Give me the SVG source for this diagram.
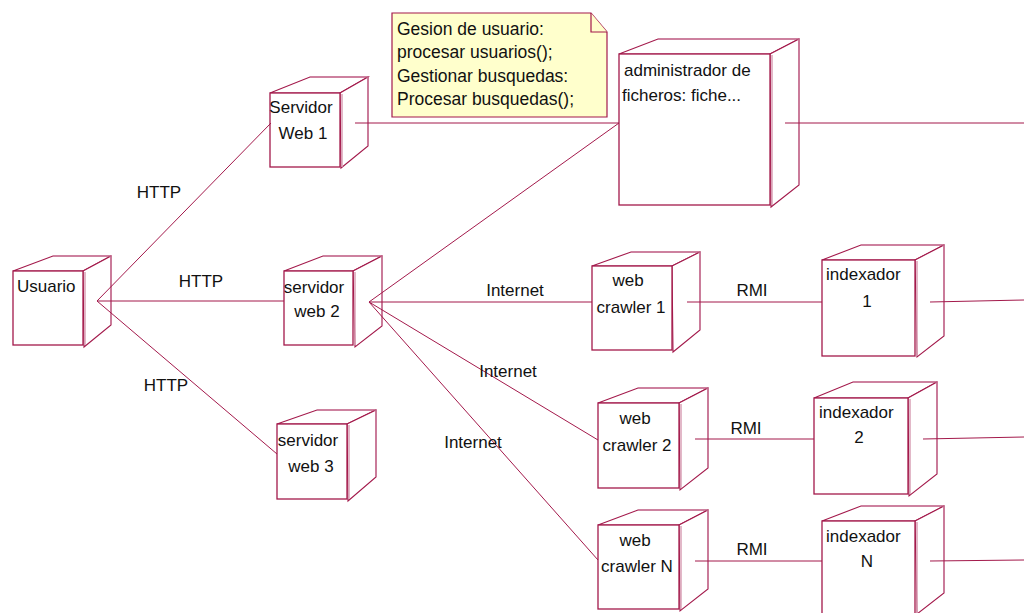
<svg xmlns="http://www.w3.org/2000/svg" width="1024" height="613" viewBox="0 0 1024 613">
  <defs>
    <style>
      .bg { fill: #ffffff; }
      .conn { stroke: #a3194b; stroke-width: 1; fill: none; }
      .front { fill: #ffffff; stroke: #a3194b; stroke-width: 1.3; }
      .face { fill: #ffffff; stroke: #a3194b; stroke-width: 1.1; stroke-linejoin: miter; }
      .back { stroke: #c9789a; stroke-width: 1.1; fill: none; }
      .inner { stroke: #d9a0b6; stroke-width: 1.5; fill: none; }
      .note { fill: #ffffcc; stroke: #a3194b; stroke-width: 1.2; }
      text { font-family: "Liberation Sans", Arial, sans-serif; font-size: 17px; fill: #111111; }
      .n { font-size: 17.5px; }
      .c { text-anchor: middle; }
    </style>
  </defs>

  <rect class="bg" x="0" y="0" width="1024" height="613"/>

  <!-- note -->
  <g id="note">
    <path class="note" d="M392,13 L591,13 L607,32 L607,117 L392,117 Z"/>
    <path class="note" d="M591,13 L591,32 L607,32" fill="none"/>
    <text class="n" x="397" y="35">Gesion de usuario:</text>
    <text class="n" x="397" y="58">procesar usuarios();</text>
    <text class="n" x="397" y="82">Gestionar busquedas:</text>
    <text class="n" x="397" y="105">Procesar busquedas();</text>
  </g>

  <!-- nodes -->
  <g id="usuario">
    <path class="face" d="M13,271 L53,256 L111,256 L83,271 Z"/>
    <path class="face" d="M83,271 L111,256 L111,325 L84,347 Z"/>
    <path class="back" d="M53,256 L111,256 L111,325"/>
    <rect class="front" x="13" y="271" width="70" height="74"/>
    <line class="inner" x1="85" y1="272" x2="85" y2="345"/>
    <text x="17" y="292">Usuario</text>
  </g>

  <g id="servidor-web-1">
    <path class="face" d="M270,93 L310,77 L368,77 L340,93 Z"/>
    <path class="face" d="M340,93 L368,77 L368,146 L341,168 Z"/>
    <path class="back" d="M310,77 L368,77 L368,146"/>
    <rect class="front" x="270" y="93" width="70" height="74"/>
    <line class="inner" x1="342" y1="94" x2="342" y2="167"/>
    <text class="c" x="301" y="113">Servidor</text>
    <text class="c" x="303" y="139">Web 1</text>
  </g>

  <g id="administrador">
    <path class="face" d="M619,54 L658,39 L799,39 L770,54 Z"/>
    <path class="face" d="M770,54 L799,39 L799,185 L771,207 Z"/>
    <path class="back" d="M658,39 L799,39 L799,185"/>
    <rect class="front" x="619" y="54" width="151" height="151"/>
    <line class="inner" x1="772" y1="55" x2="772" y2="205"/>
    <text x="624" y="76">administrador de</text>
    <text x="622" y="101">ficheros: fiche...</text>
  </g>

  <g id="servidor-web-2">
    <path class="face" d="M284,271 L323,256 L382,256 L353,271 Z"/>
    <path class="face" d="M353,271 L382,256 L382,326 L355,347 Z"/>
    <path class="back" d="M323,256 L382,256 L382,326"/>
    <rect class="front" x="284" y="271" width="69" height="74"/>
    <line class="inner" x1="355" y1="272" x2="355" y2="345"/>
    <text class="c" x="314" y="293">servidor</text>
    <text class="c" x="317" y="317">web 2</text>
  </g>

  <g id="servidor-web-3">
    <path class="face" d="M277,424 L317,410 L376,410 L347,424 Z"/>
    <path class="face" d="M347,424 L376,410 L376,477 L348,501 Z"/>
    <path class="back" d="M317,410 L376,410 L376,477"/>
    <rect class="front" x="277" y="424" width="70" height="75"/>
    <line class="inner" x1="349" y1="425" x2="349" y2="499"/>
    <text class="c" x="308" y="446">servidor</text>
    <text class="c" x="311" y="472">web 3</text>
  </g>

  <g id="web-crawler-1">
    <path class="face" d="M592,266 L631,252 L700,252 L672,266 Z"/>
    <path class="face" d="M672,266 L700,252 L700,330 L673,352 Z"/>
    <path class="back" d="M631,252 L700,252 L700,330"/>
    <rect class="front" x="592" y="266" width="80" height="84"/>
    <text class="c" x="628" y="286">web</text>
    <text class="c" x="631" y="313">crawler 1</text>
  </g>

  <g id="indexador-1">
    <path class="face" d="M822,260 L861,245 L944,245 L915,260 Z"/>
    <path class="face" d="M915,260 L944,245 L944,336 L917,357 Z"/>
    <path class="back" d="M861,245 L944,245 L944,336"/>
    <rect class="front" x="822" y="260" width="93" height="96"/>
    <line class="inner" x1="917" y1="261" x2="917" y2="356"/>
    <text x="826" y="280">indexador</text>
    <text class="c" x="867" y="307">1</text>
  </g>

  <g id="web-crawler-2">
    <path class="face" d="M598,403 L638,388 L708,388 L679,403 Z"/>
    <path class="face" d="M679,403 L708,388 L708,468 L680,490 Z"/>
    <path class="back" d="M638,388 L708,388 L708,468"/>
    <rect class="front" x="598" y="403" width="81" height="85"/>
    <line class="inner" x1="681" y1="404" x2="681" y2="488"/>
    <text class="c" x="635" y="424">web</text>
    <text class="c" x="637" y="451">crawler 2</text>
  </g>

  <g id="indexador-2">
    <path class="face" d="M814,398 L853,382 L937,382 L908,398 Z"/>
    <path class="face" d="M908,398 L937,382 L937,474 L909,496 Z"/>
    <path class="back" d="M853,382 L937,382 L937,474"/>
    <rect class="front" x="814" y="398" width="94" height="96"/>
    <line class="inner" x1="910" y1="399" x2="910" y2="494"/>
    <text x="819" y="418">indexador</text>
    <text class="c" x="859" y="443">2</text>
  </g>

  <g id="web-crawler-n">
    <path class="face" d="M598,525 L638,510 L708,510 L679,525 Z"/>
    <path class="face" d="M679,525 L708,510 L708,589 L680,611 Z"/>
    <path class="back" d="M638,510 L708,510 L708,589"/>
    <rect class="front" x="598" y="525" width="81" height="84"/>
    <line class="inner" x1="681" y1="526" x2="681" y2="609"/>
    <text class="c" x="635" y="546">web</text>
    <text class="c" x="637" y="572">crawler N</text>
  </g>

  <g id="indexador-n">
    <path class="face" d="M822,521 L861,506 L944,506 L915,521 Z"/>
    <path class="face" d="M915,521 L944,506 L944,593 L917,614 Z"/>
    <path class="back" d="M861,506 L944,506 L944,593"/>
    <rect class="front" x="822" y="521" width="93" height="100"/>
    <line class="inner" x1="917" y1="522" x2="917" y2="613"/>
    <text x="826" y="542">indexador</text>
    <text class="c" x="867" y="567">N</text>
  </g>

  <!-- connectors, drawn over the node side faces they start from -->
  <g id="connectors">
    <line class="conn" x1="97" y1="301" x2="271" y2="123"/>
    <line class="conn" x1="97" y1="301" x2="284" y2="301"/>
    <line class="conn" x1="97" y1="301" x2="277" y2="454"/>
    <line class="conn" x1="355" y1="123" x2="619" y2="123"/>
    <line class="conn" x1="369" y1="302" x2="619" y2="123"/>
    <line class="conn" x1="369" y1="302" x2="592" y2="302"/>
    <line class="conn" x1="369" y1="302" x2="598" y2="440"/>
    <line class="conn" x1="369" y1="302" x2="598" y2="560"/>
    <line class="conn" x1="687" y1="302" x2="822" y2="302"/>
    <line class="conn" x1="695" y1="439" x2="814" y2="439"/>
    <line class="conn" x1="695" y1="561" x2="822" y2="561"/>
    <line class="conn" x1="785" y1="123" x2="1024" y2="123"/>
    <line class="conn" x1="930" y1="302" x2="1024" y2="300"/>
    <line class="conn" x1="923" y1="439" x2="1024" y2="437"/>
    <line class="conn" x1="930" y1="561" x2="1024" y2="560"/>

    <text class="c" x="159" y="198">HTTP</text>
    <text class="c" x="201" y="287">HTTP</text>
    <text class="c" x="166" y="391">HTTP</text>
    <text class="c" x="515" y="296">Internet</text>
    <text class="c" x="508" y="377">Internet</text>
    <text class="c" x="473" y="448">Internet</text>
    <text class="c" x="752" y="296">RMI</text>
    <text class="c" x="746" y="434">RMI</text>
    <text class="c" x="752" y="555">RMI</text>
  </g>
</svg>
